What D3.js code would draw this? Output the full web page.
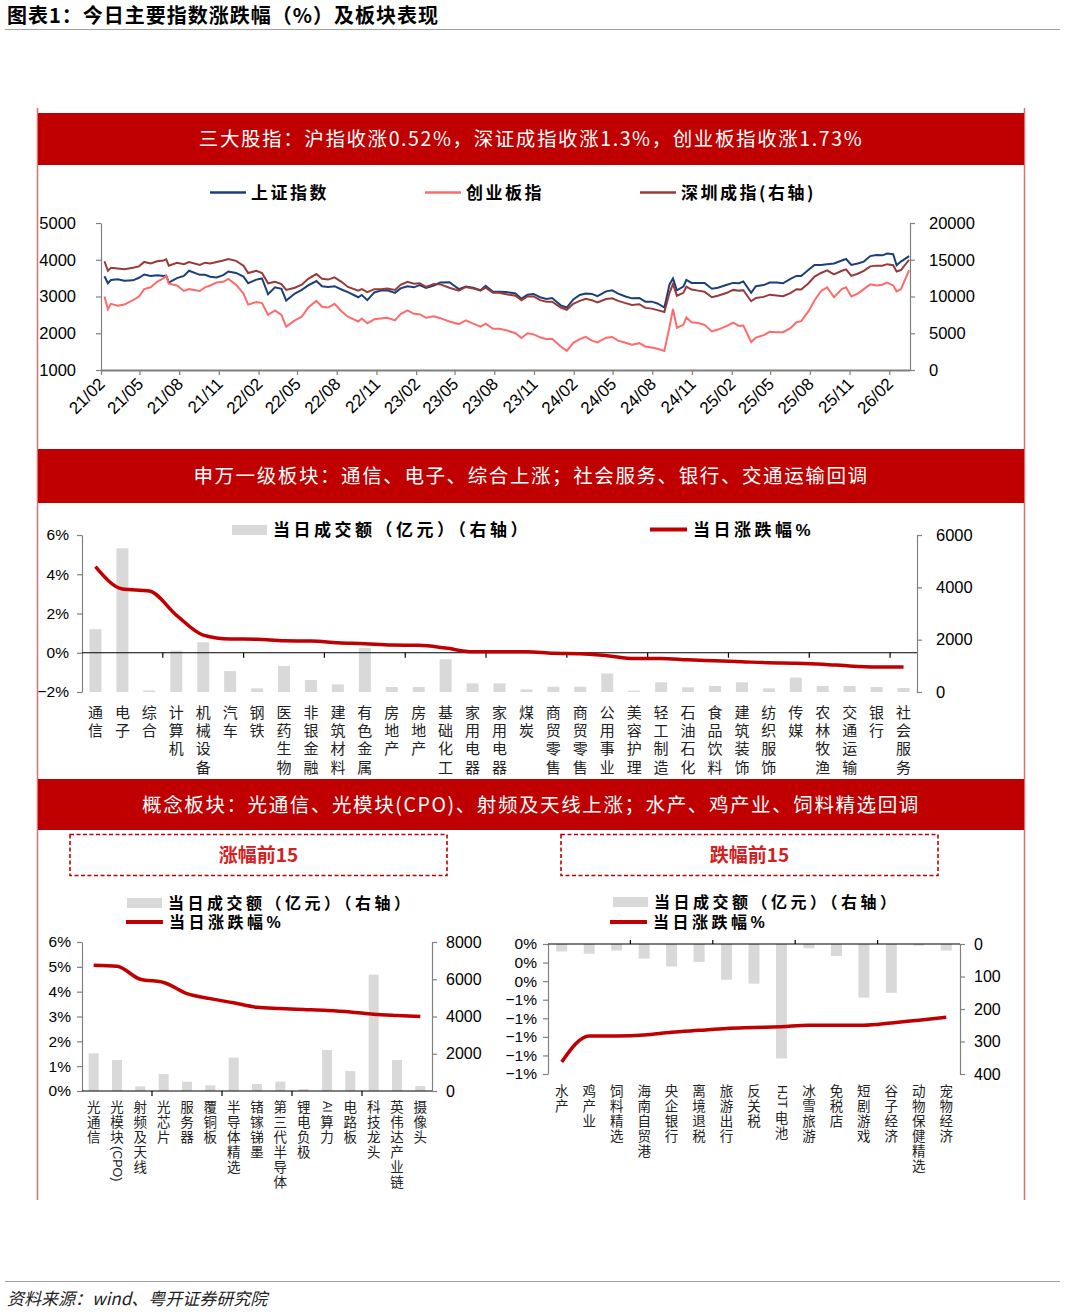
<!DOCTYPE html>
<html><head><meta charset="utf-8">
<script src="https://cdn.jsdelivr.net/npm/d3@7"></script>
<style>
body{margin:0;background:#fff;}
</style></head><body>
<svg id="c" width="1065" height="1312" xmlns="http://www.w3.org/2000/svg"></svg>
<script>
// ---------------- DATA ----------------
const pageTitle = '图表1：今日主要指数涨跌幅（%）及板块表现';
const bannerTitles = [
  '三大股指：沪指收涨0.52%，深证成指收涨1.3%，创业板指收涨1.73%',
  '申万一级板块：通信、电子、综合上涨；社会服务、银行、交通运输回调',
  '概念板块：光通信、光模块(CPO)、射频及天线上涨；水产、鸡产业、饲料精选回调'
];
const boxTitles = ['涨幅前15', '跌幅前15'];
const sourceNote = '资料来源：wind、粤开证券研究院';

const idxLegend = ['上证指数', '创业板指', '深圳成指(右轴)'];
const idxTickLabels = ['21/02','21/05','21/08','21/11','22/02','22/05','22/08','22/11','23/02','23/05','23/08','23/11','24/02','24/05','24/08','24/11','25/02','25/05','25/08','25/11','26/02'];
const idxDates = ['2021-03-01','2021-03-09','2021-03-16','2021-04-01','2021-04-16','2021-05-06','2021-05-20','2021-06-01','2021-06-16','2021-07-01','2021-07-16','2021-07-22','2021-07-28','2021-08-16','2021-09-01','2021-09-13','2021-10-08','2021-10-20','2021-11-01','2021-11-16','2021-12-01','2021-12-13','2021-12-31','2022-01-17','2022-01-28','2022-02-16','2022-03-01','2022-03-15','2022-03-31','2022-04-15','2022-04-26','2022-05-16','2022-06-01','2022-06-16','2022-07-05','2022-07-18','2022-08-01','2022-08-16','2022-09-01','2022-09-16','2022-10-10','2022-10-18','2022-10-31','2022-11-16','2022-12-01','2022-12-16','2023-01-03','2023-01-16','2023-02-01','2023-02-16','2023-03-01','2023-03-16','2023-04-03','2023-04-18','2023-05-09','2023-05-31','2023-06-16','2023-07-03','2023-07-20','2023-08-01','2023-08-18','2023-09-01','2023-09-18','2023-10-09','2023-10-23','2023-11-06','2023-11-20','2023-12-05','2023-12-20','2024-01-02','2024-01-22','2024-02-05','2024-02-20','2024-03-06','2024-03-20','2024-04-03','2024-04-16','2024-05-06','2024-05-20','2024-06-03','2024-06-20','2024-07-05','2024-07-22','2024-08-05','2024-08-20','2024-09-02','2024-09-18','2024-09-30','2024-10-08','2024-10-17','2024-11-01','2024-11-08','2024-11-20','2024-12-05','2024-12-20','2025-01-06','2025-01-20','2025-02-10','2025-02-24','2025-03-10','2025-03-20','2025-04-07','2025-04-18','2025-05-06','2025-05-20','2025-06-05','2025-06-20','2025-07-07','2025-07-21','2025-08-01','2025-08-18','2025-09-01','2025-09-16','2025-09-30','2025-10-16','2025-11-03','2025-11-13','2025-11-25','2025-12-10','2025-12-24','2026-01-08','2026-01-22','2026-02-05','2026-02-16','2026-03-02','2026-03-10','2026-03-20','2026-04-08'];
const sseValues = [3550,3360,3450,3470,3430,3440,3510,3600,3560,3580,3560,3570,3380,3500,3560,3700,3590,3590,3540,3520,3580,3680,3640,3540,3360,3460,3490,3060,3250,3210,2890,3080,3180,3300,3420,3280,3260,3280,3190,3120,2980,3040,2900,3110,3160,3170,3100,3220,3280,3250,3310,3230,3300,3380,3390,3200,3270,3240,3170,3290,3130,3130,3120,3080,2940,3050,3070,2980,2930,2960,2760,2700,2920,3040,3080,3070,3010,3140,3170,3080,3000,2950,2960,2860,2860,2810,2700,3330,3490,3170,3270,3450,3370,3370,3370,3210,3240,3320,3370,3360,3410,3100,3280,3310,3380,3380,3360,3480,3560,3560,3730,3860,3860,3880,3900,3980,4020,3860,3900,3950,4100,4130,4120,4170,4150,3850,3950,4100];
const cybValues = [3000,2650,2800,2750,2780,2900,3000,3200,3250,3400,3500,3560,3350,3300,3150,3200,3150,3250,3300,3380,3400,3480,3320,3080,2780,2850,2820,2500,2620,2500,2180,2350,2450,2700,2880,2720,2700,2800,2600,2450,2320,2400,2270,2380,2400,2420,2350,2520,2620,2530,2520,2420,2460,2410,2320,2250,2350,2260,2180,2260,2120,2120,2080,2000,1870,2000,1970,1890,1840,1850,1640,1520,1740,1840,1900,1800,1750,1880,1900,1800,1740,1690,1730,1640,1610,1580,1520,2180,2660,2150,2230,2430,2300,2280,2230,2050,2100,2200,2290,2200,2210,1760,1880,1950,2040,2030,2030,2140,2300,2330,2600,2900,3150,3250,2980,3200,3250,3000,3080,3200,3330,3300,3320,3380,3300,3140,3200,3720];
const szValues = [14800,13500,13900,13800,13700,13900,14100,14700,14500,14800,14900,15050,14200,14600,14400,14700,14300,14600,14500,14700,14900,15100,14850,14200,13200,13500,13200,11800,12000,11700,10900,11200,11600,12400,13050,12400,12300,12600,12000,11300,10800,11000,10600,11000,11000,11100,10900,11600,12000,11750,11800,11300,11700,11650,11200,10800,11300,11100,10800,11200,10500,10500,10300,10100,9500,10000,10000,9500,9300,9300,8500,8200,9000,9400,9700,9500,9200,9650,9750,9400,9100,8850,8950,8450,8350,8150,7900,10500,11700,10100,10500,11350,10950,10800,10650,9900,10100,10500,10900,10800,10850,9360,9800,9950,10250,10150,10050,10450,11000,10950,11800,12700,13200,13550,13000,13500,13700,12800,13100,13500,14100,14200,14200,14400,14250,13400,13600,15000];

const barLegend = '当日成交额（亿元）（右轴）';
const lineLegend = '当日涨跌幅%';

const swSectors = ['通信','电子','综合','计算机','机械设备','汽车','钢铁','医药生物','非银金融','建筑材料','有色金属','房地产','房地产','基础化工','家用电器','家用电器','煤炭','商贸零售','商贸零售','公用事业','美容护理','轻工制造','石油石化','食品饮料','建筑装饰','纺织服饰','传媒','农林牧渔','交通运输','银行','社会服务'];
const swChange = [4.39,3.25,3.15,1.92,0.90,0.70,0.69,0.61,0.60,0.51,0.46,0.39,0.38,0.24,0.05,0.05,0.05,-0.03,-0.05,-0.15,-0.29,-0.29,-0.36,-0.41,-0.46,-0.51,-0.53,-0.58,-0.68,-0.73,-0.73];
const swTurnover = [2400,5490,60,1580,1900,800,140,990,460,290,1690,190,190,1250,330,330,100,200,200,710,50,370,180,230,370,140,550,230,230,190,150];

const upConcepts = ['光通信','光模块(CPO)','射频及天线','光芯片','服务器','覆铜板','半导体精选','锗镓锑墨','第三代半导体','锂电负极','AI算力','电路板','科技龙头','英伟达产业链','摄像头'];
const upChange = [5.06,5.02,4.50,4.37,3.92,3.72,3.55,3.37,3.32,3.28,3.24,3.18,3.09,3.04,3.00];
const upTurnover = [2020,1660,250,910,500,300,1790,375,500,110,2200,1070,6250,1660,270];

const downConcepts = ['水产','鸡产业','饲料精选','海南自贸港','央企银行','离境退税','旅游出行','反关税','HJT电池','冰雪旅游','免税店','短剧游戏','谷子经济','动物保健精选','宠物经济'];
const downChange = [-1.27,-0.99,-0.99,-0.98,-0.95,-0.93,-0.91,-0.90,-0.89,-0.875,-0.875,-0.875,-0.85,-0.82,-0.79];
const downTurnover = [23,30,20,45,69,55,110,122,352,13,37,165,150,5,20];

// ---------------- STYLE ----------------
const RED = '#c00000';
const AX = '#808080';
const BAR = '#d9d9d9';
const CJK = '"Noto Sans CJK SC", "Noto Sans", sans-serif';
const NUM = '"Liberation Sans", Arial, sans-serif';
const LAB = '"Liberation Sans", "Noto Sans CJK SC", sans-serif';
const C_SSE = '#1b3f7c', C_CYB = '#ff6b6b', C_SZ = '#973a38';
const fmtInt = d3.format('d');

const svg = d3.select('#c');

// header
svg.append('text').attr('x', 7).attr('y', 23).attr('font-family', CJK).attr('font-weight', 'bold')
  .attr('font-size', 20).attr('letter-spacing', 1).text(pageTitle);
svg.append('line').attr('x1', 5).attr('x2', 1060).attr('y1', 29.5).attr('y2', 29.5).attr('stroke', '#a0a0a0').attr('stroke-width', 1);

// frame
[37.5, 1024.5].forEach(x => svg.append('line').attr('x1', x).attr('x2', x).attr('y1', 108).attr('y2', 1200)
  .attr('stroke', '#e07070').attr('stroke-width', 1.5));

function banner(y, h, text) {
  svg.append('rect').attr('x', 38).attr('y', y).attr('width', 986).attr('height', h).attr('fill', RED);
  svg.append('text').attr('x', 531).attr('y', y + h / 2 + 7).attr('text-anchor', 'middle').attr('fill', '#fff')
    .attr('font-family', CJK).attr('font-size', 19.5).attr('letter-spacing', 1.6).text(text);
}
banner(113, 52, bannerTitles[0]);
banner(449, 54, bannerTitles[1]);
banner(779, 51, bannerTitles[2]);

function styleAxis(g, fs) {
  g.attr('font-family', NUM).attr('font-size', fs);
  g.select('.domain').attr('stroke', AX).attr('stroke-width', 1.2);
  g.selectAll('.tick line').attr('stroke', AX).attr('stroke-width', 1.2);
  g.selectAll('.tick text').attr('fill', '#000');
}

// ---------------- TOP CHART ----------------
(function () {
  const parse = d3.timeParse('%Y-%m-%d');
  const dates = idxDates.map(parse);
  const tickDates = idxTickLabels.map(s => new Date(2000 + (+s.slice(0, 2)), +s.slice(3) - 1, 21));
  const x = d3.scaleTime().domain([new Date(2021, 1, 21), new Date(2026, 3, 10)]).range([101, 910]);
  const yL = d3.scaleLinear().domain([1000, 5000]).range([370, 223]);
  const yR = d3.scaleLinear().domain([0, 20000]).range([370, 223]);

  const gl = svg.append('g').attr('transform', 'translate(101,0)')
    .call(d3.axisLeft(yL).tickValues([1000, 2000, 3000, 4000, 5000]).tickFormat(fmtInt).tickSize(5).tickSizeOuter(0).tickPadding(20));
  styleAxis(gl, 16.5);
  const gr = svg.append('g').attr('transform', 'translate(910,0)')
    .call(d3.axisRight(yR).tickValues([0, 5000, 10000, 15000, 20000]).tickFormat(fmtInt).tickSize(5).tickSizeOuter(0).tickPadding(14));
  styleAxis(gr, 16.5);
  const gb = svg.append('g').attr('transform', 'translate(0,370)')
    .call(d3.axisBottom(x).tickValues(tickDates).tickSize(5).tickSizeOuter(0).tickFormat(''));
  styleAxis(gb, 15);
  gb.select('.domain').attr('stroke-width', 2);
  const fmt = d3.timeFormat('%y/%m');
  tickDates.forEach(d => {
    svg.append('text').attr('transform', `translate(${x(d) + 5},${385}) rotate(-45)`)
      .attr('text-anchor', 'end').attr('font-family', NUM).attr('font-size', 17).text(fmt(d));
  });

  const mk = (vals, sc) => d3.line().x((d, i) => x(dates[i])).y(d => sc(d))(vals);
  svg.append('path').attr('d', mk(sseValues, yL)).attr('fill', 'none').attr('stroke', C_SSE).attr('stroke-width', 2);
  svg.append('path').attr('d', mk(cybValues, yL)).attr('fill', 'none').attr('stroke', C_CYB).attr('stroke-width', 2);
  svg.append('path').attr('d', mk(szValues, yR)).attr('fill', 'none').attr('stroke', C_SZ).attr('stroke-width', 2);

  const legs = [[210, C_SSE], [425, C_CYB], [640, C_SZ]];
  legs.forEach(([lx, c], i) => {
    svg.append('line').attr('x1', lx).attr('x2', lx + 36).attr('y1', 192.5).attr('y2', 192.5).attr('stroke', c).attr('stroke-width', 2.5);
    svg.append('text').attr('x', lx + 41).attr('y', 199).attr('font-family', CJK).attr('font-weight', 'bold')
      .attr('font-size', 17).attr('letter-spacing', 2.5).text(idxLegend[i]);
  });
})();

// vertical category label: one text element, one tspan per glyph
function vText(g, str, cx, yTop, fs, lh) {
  const t = g.append('text').attr('font-family', LAB).attr('font-size', fs).attr('fill', '#222');
  let y = yTop, prevAscii = false;
  for (const ch of str) {
    const ascii = /[\x00-\x7F]/.test(ch);
    if (ascii) {
      const afs = fs - 1;
      const tmp = g.append('text').attr('font-family', NUM).attr('font-size', afs).text(ch);
      const w = tmp.node().getComputedTextLength();
      tmp.remove();
      if (!prevAscii) y += 2;
      t.append('tspan').attr('x', cx - 0.3 * afs).attr('y', y).attr('rotate', 90)
        .attr('font-family', NUM).attr('font-size', afs).text(ch);
      y += w;
    } else {
      if (prevAscii) y += 2;
      t.append('tspan').attr('x', cx).attr('y', y + lh / 2 + 0.38 * fs).attr('text-anchor', 'middle').text(ch);
      y += lh;
    }
    prevAscii = ascii;
  }
}

function legendPair(x, yBar, fs, ls) {
  svg.append('rect').attr('x', x).attr('y', yBar - 5).attr('width', 35).attr('height', 10).attr('fill', BAR);
  svg.append('text').attr('x', x + 41).attr('y', yBar + 6).attr('font-family', LAB).attr('font-weight', 'bold')
    .attr('font-size', fs).attr('letter-spacing', ls).text(barLegend);
  return function (lx, ly) {
    svg.append('line').attr('x1', lx).attr('x2', lx + 37).attr('y1', ly).attr('y2', ly).attr('stroke', RED).attr('stroke-width', 4);
    svg.append('text').attr('x', lx + 43).attr('y', ly + 6).attr('font-family', LAB).attr('font-weight', 'bold')
      .attr('font-size', fs).attr('letter-spacing', ls).text(lineLegend);
  };
}

// ---------------- MIDDLE CHART ----------------
(function () {
  const xb = d3.scaleBand().domain(d3.range(swSectors.length)).range([82, 917]);
  const yL = d3.scaleLinear().domain([-2, 6]).range([692, 535]);
  const yR = d3.scaleLinear().domain([0, 6000]).range([692, 535]);
  const bw = 12, cx = i => xb(i) + xb.bandwidth() / 2;

  svg.append('g').selectAll('rect').data(swTurnover).join('rect')
    .attr('x', (d, i) => cx(i) - bw / 2).attr('width', bw).attr('y', d => yR(d)).attr('height', d => yR(0) - yR(d)).attr('fill', BAR);

  const gl = svg.append('g').attr('transform', 'translate(82,0)')
    .call(d3.axisLeft(yL).tickValues([-2, 0, 2, 4, 6]).tickSize(5).tickSizeOuter(0).tickPadding(8)
      .tickFormat(d => (d < 0 ? '\u2212' : '') + Math.abs(d) + '%'));
  styleAxis(gl, 15.5);
  const gr = svg.append('g').attr('transform', 'translate(917,0)')
    .call(d3.axisRight(yR).tickValues([0, 2000, 4000, 6000]).tickFormat(fmtInt).tickSize(5).tickSizeOuter(0).tickPadding(14));
  styleAxis(gr, 16.5);

  const y0 = yL(0);
  svg.append('line').attr('x1', 82).attr('x2', 917).attr('y1', y0).attr('y2', y0).attr('stroke', '#000').attr('stroke-width', 1.2);
  d3.range(3, swSectors.length, 3).forEach(i => svg.append('line').attr('x1', xb(i)).attr('x2', xb(i))
    .attr('y1', y0).attr('y2', y0 + 5).attr('stroke', '#000').attr('stroke-width', 1.2));

  svg.append('path').attr('d', d3.line().curve(d3.curveMonotoneX).x((d, i) => cx(i)).y(d => yL(d))(swChange))
    .attr('fill', 'none').attr('stroke', RED).attr('stroke-width', 3.5).attr('stroke-linejoin', 'round');

  const gt = svg.append('g');
  swSectors.forEach((s, i) => vText(gt, s, cx(i), 703, 15, 18.3));

  const lineLeg = legendPair(232, 530, 17, 3.5);
  lineLeg(650, 529.5);
})();

// dashed boxes
[[70, boxTitles[0]], [561, boxTitles[1]]].forEach(([bx, t]) => {
  svg.append('rect').attr('x', bx).attr('y', 834.5).attr('width', 377).attr('height', 41).attr('fill', 'none')
    .attr('stroke', RED).attr('stroke-width', 1.6).attr('stroke-dasharray', '4,2.5');
  svg.append('text').attr('x', bx + 188.5).attr('y', 862).attr('text-anchor', 'middle').attr('fill', '#d42020')
    .attr('font-family', CJK).attr('font-weight', 'bold').attr('font-size', 19).text(t);
});

// ---------------- BOTTOM LEFT ----------------
(function () {
  const xb = d3.scaleBand().domain(d3.range(upConcepts.length)).range([82, 432]);
  const yL = d3.scaleLinear().domain([0, 6]).range([1091, 942]);
  const yR = d3.scaleLinear().domain([0, 8000]).range([1091, 942]);
  const bw = 10, cx = i => xb(i) + xb.bandwidth() / 2;

  svg.append('g').selectAll('rect').data(upTurnover).join('rect')
    .attr('x', (d, i) => cx(i) - bw / 2).attr('width', bw).attr('y', d => yR(d)).attr('height', d => yR(0) - yR(d)).attr('fill', BAR);

  const gl = svg.append('g').attr('transform', 'translate(82,0)')
    .call(d3.axisLeft(yL).tickValues(d3.range(0, 7)).tickSize(5).tickSizeOuter(0).tickPadding(6).tickFormat(d => d + '%'));
  styleAxis(gl, 15.5);
  const gr = svg.append('g').attr('transform', 'translate(432,0)')
    .call(d3.axisRight(yR).tickValues([0, 2000, 4000, 6000, 8000]).tickFormat(fmtInt).tickSize(5).tickSizeOuter(0).tickPadding(9));
  styleAxis(gr, 16);

  const y0 = yL(0);
  svg.append('line').attr('x1', 82).attr('x2', 432).attr('y1', y0).attr('y2', y0).attr('stroke', '#000').attr('stroke-width', 1.2);
  d3.range(3, upConcepts.length, 3).forEach(i => svg.append('line').attr('x1', xb(i)).attr('x2', xb(i))
    .attr('y1', y0).attr('y2', y0 + 5).attr('stroke', '#000').attr('stroke-width', 1.2));

  svg.append('path').attr('d', d3.line().curve(d3.curveMonotoneX).x((d, i) => cx(i)).y(d => yL(d))(upChange))
    .attr('fill', 'none').attr('stroke', RED).attr('stroke-width', 3.5).attr('stroke-linejoin', 'round');

  const gt = svg.append('g');
  upConcepts.forEach((s, i) => vText(gt, s, cx(i), 1099, 13.5, 15));

  const lineLeg = legendPair(127, 903, 16, 3.5);
  lineLeg(126, 922);
})();

// ---------------- BOTTOM RIGHT ----------------
(function () {
  const xb = d3.scaleBand().domain(d3.range(downConcepts.length)).range([548, 960]);
  const yL = d3.scaleLinear().domain([-1.4, 0]).range([1074, 944]);
  const yR = d3.scaleLinear().domain([0, 400]).range([944, 1074]);
  const bw = 11, cx = i => xb(i) + xb.bandwidth() / 2;

  svg.append('g').selectAll('rect').data(downTurnover).join('rect')
    .attr('x', (d, i) => cx(i) - bw / 2).attr('width', bw).attr('y', yR(0)).attr('height', d => yR(d) - yR(0)).attr('fill', BAR);

  const gl = svg.append('g').attr('transform', 'translate(548,0)')
    .call(d3.axisLeft(yL).tickValues(d3.range(0, 8).map(i => -0.2 * i)).tickSize(5).tickSizeOuter(0).tickPadding(6)
      .tickFormat(d => { const r = Math.round(d); return (r < 0 ? '\u2212' : '') + Math.abs(r) + '%'; }));
  styleAxis(gl, 15.5);
  const gr = svg.append('g').attr('transform', 'translate(960,0)')
    .call(d3.axisRight(yR).tickValues([0, 100, 200, 300, 400]).tickFormat(fmtInt).tickSize(5).tickSizeOuter(0).tickPadding(9));
  styleAxis(gr, 16);

  const y0 = yL(0);
  svg.append('line').attr('x1', 548).attr('x2', 960).attr('y1', y0).attr('y2', y0).attr('stroke', '#000').attr('stroke-width', 1.2);
  d3.range(3, downConcepts.length, 3).forEach(i => svg.append('line').attr('x1', xb(i)).attr('x2', xb(i))
    .attr('y1', y0).attr('y2', y0 - 4).attr('stroke', '#000').attr('stroke-width', 1.2));

  svg.append('path').attr('d', d3.line().curve(d3.curveMonotoneX).x((d, i) => cx(i)).y(d => yL(d))(downChange))
    .attr('fill', 'none').attr('stroke', RED).attr('stroke-width', 3.5).attr('stroke-linejoin', 'round');

  const gt = svg.append('g');
  downConcepts.forEach((s, i) => vText(gt, s, cx(i), 1083, 13.5, 15));

  const lineLeg = legendPair(613, 902, 16, 3.5);
  lineLeg(610, 922);
})();

// footer
svg.append('line').attr('x1', 5).attr('x2', 1060).attr('y1', 1281.5).attr('y2', 1281.5).attr('stroke', '#a0a0a0');
svg.append('text').attr('x', 7).attr('y', 1305).attr('font-family', CJK).attr('font-style', 'italic')
  .attr('font-size', 17).attr('fill', '#222').text(sourceNote);
</script></body></html>
